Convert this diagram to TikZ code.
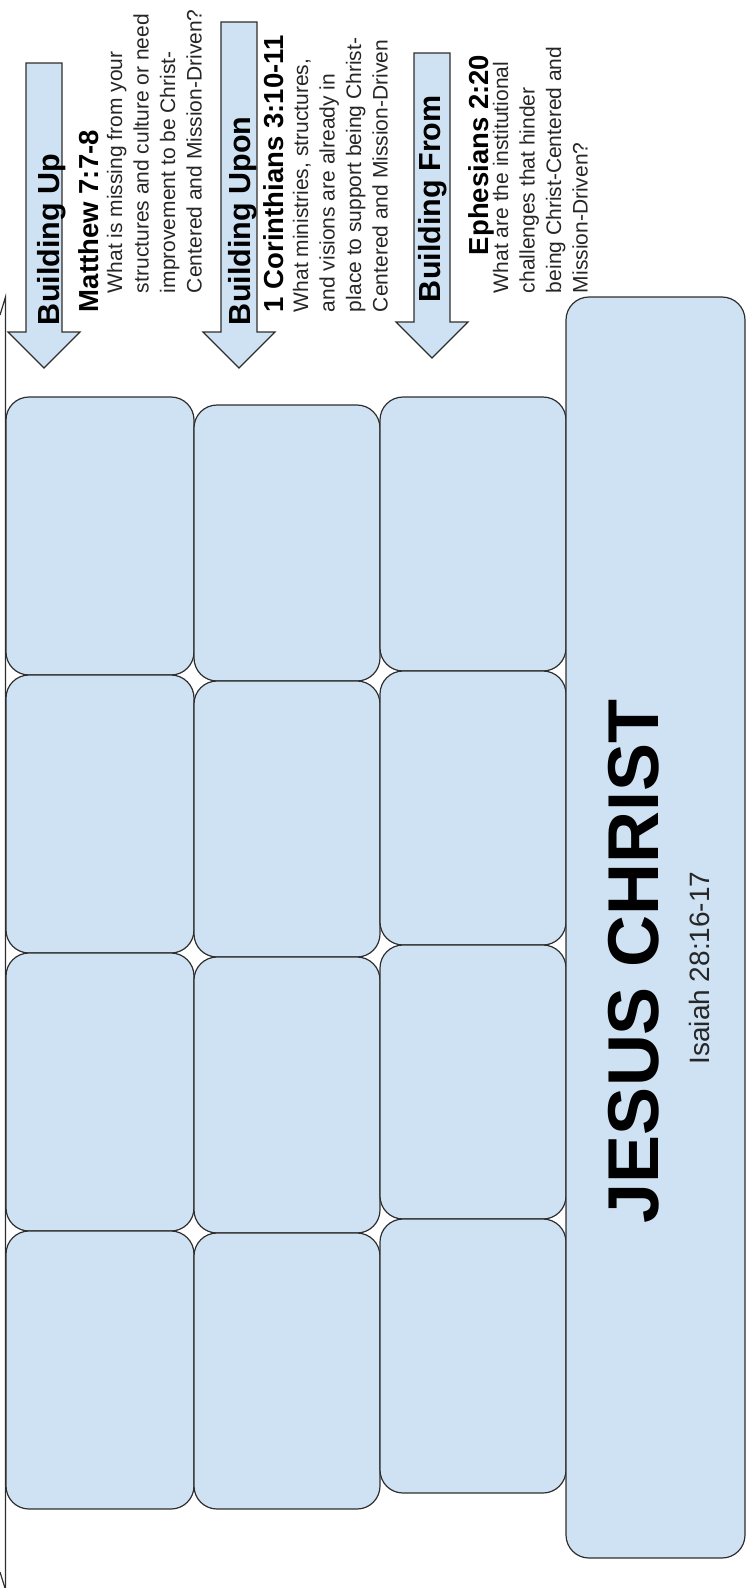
\documentclass[tikz,border=0pt]{standalone}
\usepackage{fontspec}
\setmainfont{Liberation Sans}
\definecolor{cellblue}{HTML}{CFE2F3}
\definecolor{edgegray}{HTML}{2E2E2E}

\begin{document}
\begin{tikzpicture}[x=1pt, y=-1pt,
	every node/.style={inner sep=0pt, outer sep=0pt},
	cell/.style={draw=edgegray, fill=cellblue, line width=1.2pt, rounded corners=23pt, anchor=north west},
	downarrow/.style={draw=edgegray, fill=cellblue, line width=1.2pt},
	heading/.style={font=\bfseries\fontsize{30.5}{36}\selectfont, rotate=90, anchor=north west},
	verse/.style={font=\bfseries\fontsize{27.5}{32}\selectfont, rotate=90, anchor=north west},
	question/.style={font=\fontsize{21}{26.5}\selectfont, rotate=90, anchor=north west, align=left, text=black!85}]
	\useasboundingbox (0,0) rectangle (746,1588);
	% edge of the page frame
	\draw[edgegray, line width=1.2pt] (0,315) -- (5.5,297) -- (5.5,1588);
	\draw[edgegray, line width=1.2pt] (0,1572) -- (5,1588);
	% the three arrows
	\foreach \cx/\ya/\yb in {44/63/332, 239/22/332, 432/53/322}
		{\draw[downarrow] (\cx-18,\ya) -- (\cx+18,\ya) -- (\cx+18,\yb) -- (\cx+36,\yb) -- (\cx,\yb+36) -- (\cx-36,\yb) -- (\cx-18,\yb) -- cycle;}
	% the wall
	\foreach \col/\x/\w/\ya/\h in {1/6/188/397/278, 2/194/186/405/276, 3/380/186/397/274}
		{\foreach \row in {1,...,4} {\node[cell, minimum width=\w pt, minimum height=\h pt] (b\col\row) at (\x,{\ya+(\row-1)*\h}) {};}}
	\node[cell, minimum width=179pt, minimum height=1261pt] (cornerstone) at (566,297) {};
	\node[font=\bfseries\fontsize{72}{80}\selectfont, rotate=90] (jesus) at (634,961) {JESUS CHRIST};
	\node[font=\fontsize{28}{32}\selectfont, rotate=90, text=black!85] (isaiah) at (699,968) {Isaiah 28:16-17};
	% texts beside the arrows
	\node[heading] (upLbl) at (37,325) {Building Up};
	\node[verse] (upRef) at (79,312) {Matthew 7:7-8};
	\node[question] (upQ) at (107,293) {What is missing from your\\structures and culture or need\\improvement to be Christ-\\Centered and Mission-Driven?};
	\node[heading] (uponLbl) at (228,325) {Building Upon};
	\node[verse] (uponRef) at (264,312) {1 Corinthians 3:10-11};
	\node[question] (uponQ) at (293,312) {What ministries, structures,\\and visions are already in\\place to support being Christ-\\Centered and Mission-Driven};
	\node[heading] (fromLbl) at (418,302) {Building From};
	\node[verse] (fromRef) at (469,255) {Ephesians 2:20};
	\node[question] (fromQ) at (493,293) {What are the institutional\\challenges that hinder\\being Christ-Centered and\\Mission-Driven?};
\end{tikzpicture}
\end{document}
